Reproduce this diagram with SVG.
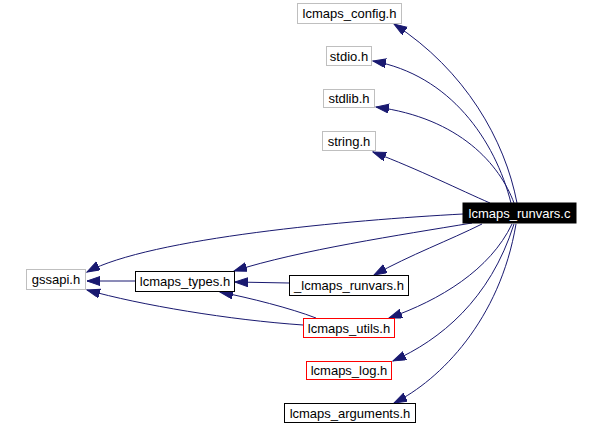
<svg xmlns="http://www.w3.org/2000/svg" width="601" height="425" viewBox="0 0 601 425">
<style>
text{font-family:"Liberation Sans",Arial,sans-serif;font-size:13px;text-anchor:middle;fill:#000}
rect{fill:#fff;stroke-width:1}
.g{stroke:#bfbfbf}
.b{stroke:#000}
.r{stroke:#ff0000}
.e path{fill:none;stroke:#191970;stroke-width:1;marker-end:url(#ah)}
</style>
<defs>
<marker id="ah" markerUnits="userSpaceOnUse" markerWidth="14" markerHeight="11" refX="13" refY="4.5" orient="auto">
<path d="M0,0 L13,4.5 L0,9 Z" fill="#191970" stroke="#191970"/>
</marker>
</defs>
<rect width="601" height="425" fill="#fff" style="stroke:none"/>
<g class="e" id="edges">
<path d="M517,203 C505,140 465,70 394,24"/>
<path d="M511,203 C495,140 450,75 373,61"/>
<path d="M514,203 C500,165 460,118 376,107"/>
<path d="M490,203 C460,190 420,170 373,152"/>
<path d="M463,214 C350,220 150,238 87,272"/>
<path d="M472,223 C400,235 300,250 234,271"/>
<path d="M482,224 C450,240 410,255 374,275"/>
<path d="M512,224 C490,270 440,300 389,318"/>
<path d="M514,224 C490,300 440,340 393,361"/>
<path d="M516,224 C500,320 440,380 394,403"/>
<path d="M135,281 L87,281"/>
<path d="M289,283 L235,282"/>
<path d="M316,318 C290,308 250,298 220,292"/>
<path d="M303,325 C230,320 140,305 87,290"/>
</g>
<g id="lcmaps_runvars_c"><rect x="463" y="203" width="113" height="20" style="fill:#000;stroke:#000"/><text x="519.5" y="217.5" style="fill:#fff">lcmaps_runvars.c</text></g>
<g id="lcmaps_config_h"><rect class="g" x="297.5" y="3.5" width="104" height="20"/><text x="349.5" y="18">lcmaps_config.h</text></g>
<g id="stdio_h"><rect class="g" x="326.5" y="46.5" width="45" height="19"/><text x="349" y="60.5">stdio.h</text></g>
<g id="stdlib_h"><rect class="g" x="323.5" y="89.5" width="51" height="18"/><text x="349" y="103">stdlib.h</text></g>
<g id="string_h"><rect class="g" x="322.5" y="131.5" width="53" height="19"/><text x="349" y="145.5">string.h</text></g>
<g id="gssapi_h"><rect class="g" x="26.5" y="269.5" width="59" height="20"/><text x="56" y="284">gssapi.h</text></g>
<g id="lcmaps_types_h"><rect class="b" x="135.5" y="271.5" width="99" height="20"/><text x="185" y="286">lcmaps_types.h</text></g>
<g id="_lcmaps_runvars_h"><rect class="b" x="289.5" y="275.5" width="119" height="20"/><text x="349" y="290">_lcmaps_runvars.h</text></g>
<g id="lcmaps_utils_h"><rect class="r" x="303.5" y="318.5" width="91" height="19"/><text x="349" y="332.5">lcmaps_utils.h</text></g>
<g id="lcmaps_log_h"><rect class="r" x="306.5" y="361.5" width="85" height="18"/><text x="349" y="375">lcmaps_log.h</text></g>
<g id="lcmaps_arguments_h"><rect class="b" x="284.5" y="403.5" width="131" height="19"/><text x="350" y="417.5">lcmaps_arguments.h</text></g>
</svg>
